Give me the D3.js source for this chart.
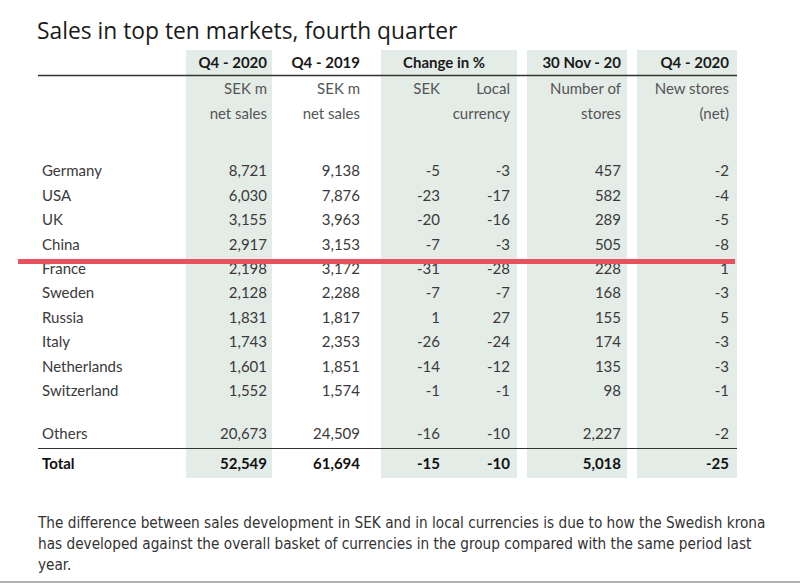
<!DOCTYPE html>
<html><head><meta charset="utf-8">
<script src="https://cdn.jsdelivr.net/npm/d3@7"></script>
<style>
body{margin:0;background:#fff;}
svg{display:block;}
</style></head>
<body>
<svg id="c" width="800" height="583"></svg>
<script>
const markets = ["Germany","USA","UK","China","France","Sweden","Russia","Italy","Netherlands","Switzerland","Others","Total"];
const sales2020 = ["8,721","6,030","3,155","2,917","2,198","2,128","1,831","1,743","1,601","1,552","20,673","52,549"];
const sales2019 = ["9,138","7,876","3,963","3,153","3,172","2,288","1,817","2,353","1,851","1,574","24,509","61,694"];
const changeSEK = [-5,-23,-20,-7,-31,-7,1,-26,-14,-1,-16,-15];
const changeLocal = [-3,-17,-16,-3,-28,-7,27,-24,-12,-1,-10,-10];
const stores = ["457","582","289","505","228","168","155","174","135","98","2,227","5,018"];
const newStores = [-2,-4,-5,-8,1,-3,5,-3,-3,-1,-2,-25];
const headerTop = ["Q4 - 2020","Q4 - 2019","Change in %","","30 Nov - 20","Q4 - 2020"];
const sub1 = ["SEK m","SEK m","SEK","Local","Number of","New stores"];
const sub2 = ["net sales","net sales","","currency","stores","(net)"];
const title = "Sales in top ten markets, fourth quarter";
const footnote = ["The difference between sales development in SEK and in local currencies is due to how the Swedish krona",
 "has developed against the overall basket of currencies in the group compared with the same period last",
 "year."];

const svg = d3.select("#c");
const font = "Lato, 'Open Sans', sans-serif";
const txt = "#3a3a3a";

// row slots: Others and Total sit below a gap
const slot = markets.map((m,i)=> i<10 ? i : (i===10 ? 10.76 : 11.99));
const y = d3.scaleLinear().domain([0,9]).range([171,391]);

// column right edges
const colKeys = ["s20","s19","cs","cl","st","ns"];
const colX = d3.scaleOrdinal().domain(colKeys).range([267,360,440,510,621,729]);
const shaded = [[186,272],[381,517],[527,627],[637,737]];

svg.append("g").selectAll("rect").data(shaded).join("rect")
  .attr("x",d=>d[0]).attr("y",50).attr("width",d=>d[1]-d[0]).attr("height",428)
  .attr("fill","#e4ece7");

svg.append("text").attr("x",37).attr("y",39).attr("font-family","'Open Sans', sans-serif")
  .attr("font-size",22.8).attr("fill","#1a1a1a").text(title);

// header
const hdr = svg.append("g").attr("font-family",font).attr("fill",txt);
headerTop.forEach((h,i)=>{
  if(!h) return;
  const isChange = i===2;
  hdr.append("text").attr("x", isChange ? 403 : colX(colKeys[i])).attr("y",68)
    .attr("text-anchor", isChange ? "start":"end").attr("font-weight",700)
    .attr("font-size",15).attr("fill","#1a1a1a").text(h);
});
sub1.forEach((h,i)=>{
  hdr.append("text").attr("x",colX(colKeys[i])).attr("y",94).attr("text-anchor","end")
    .attr("font-size",15).attr("fill","#555").text(h);
});
sub2.forEach((h,i)=>{
  if(!h) return;
  hdr.append("text").attr("x",colX(colKeys[i])).attr("y",119).attr("text-anchor","end")
    .attr("font-size",15).attr("fill","#555").text(h);
});

svg.append("line").attr("x1",38).attr("x2",737).attr("y1",75.5).attr("y2",75.5)
  .attr("stroke","#333").attr("stroke-width",1.5);
svg.append("line").attr("x1",38).attr("x2",737).attr("y1",448.5).attr("y2",448.5)
  .attr("stroke","#333").attr("stroke-width",1.2);

const rows = markets.map((m,i)=>({m, s20:sales2020[i], s19:sales2019[i], cs:changeSEK[i], cl:changeLocal[i], st:stores[i], ns:newStores[i], yy:y(slot[i]), total:m==="Total"}));
const g = svg.append("g").attr("font-family",font).attr("font-size",15);
const rg = g.selectAll("g.row").data(rows).join("g").attr("class","row")
  .attr("transform",d=>`translate(0,${d.yy})`);
rg.append("text").attr("x",42).attr("dy","0.35em").attr("fill",d=>d.total?"#111":txt)
  .attr("font-weight",d=>d.total?700:400).text(d=>d.m);
colKeys.forEach(k=>{
  rg.append("text").attr("x",colX(k)).attr("dy","0.35em").attr("text-anchor","end")
    .attr("fill",d=>d.total?"#111":txt).attr("font-weight",d=>d.total?700:400)
    .text(d=>String(d[k]));
});

// red marker line (between China and France)
const redY = y(3.7);
svg.append("line").attr("x1",18).attr("x2",735).attr("y1",redY).attr("y2",redY)
  .attr("stroke","#e8525d").attr("stroke-width",5);

// footnote
svg.append("g").selectAll("text").data(footnote).join("text")
  .attr("x",38).attr("y",(d,i)=>528+i*21).attr("font-family","'Liberation Sans Narrow','DejaVu Sans Condensed',sans-serif")
  .attr("font-size",15.2).attr("fill","#333").text(d=>d);

svg.append("line").attr("x1",0).attr("x2",800).attr("y1",582).attr("y2",582).attr("stroke","#999").attr("stroke-width",1.5);
</script>
</body></html>
